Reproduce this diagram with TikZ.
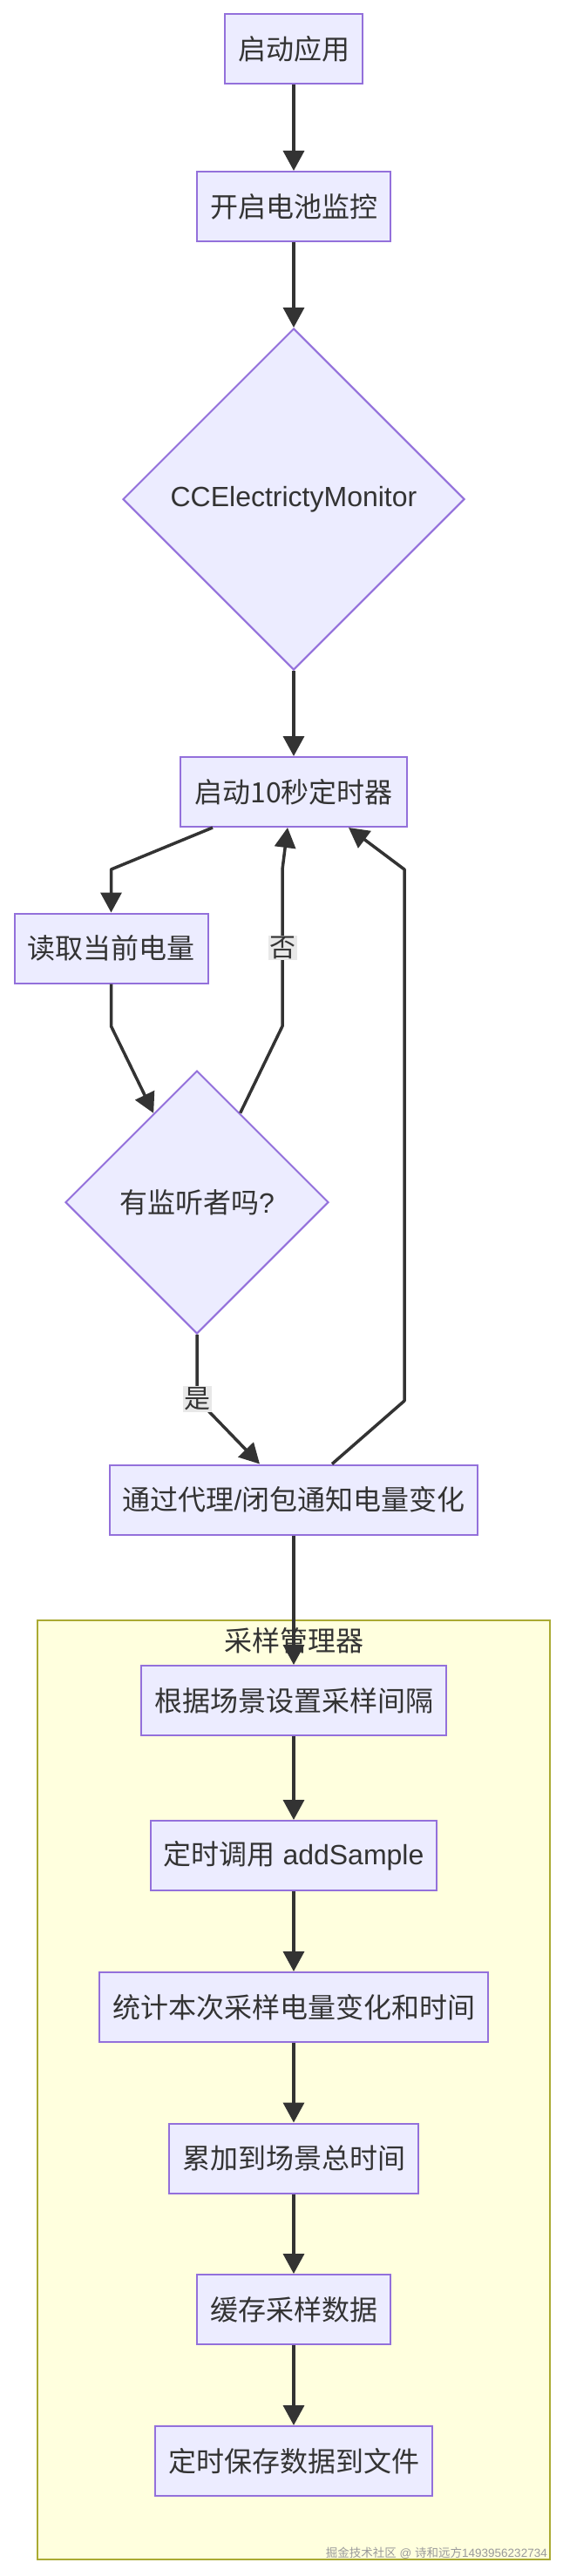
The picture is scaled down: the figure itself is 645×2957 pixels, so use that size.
\documentclass[tikz,border=0pt]{standalone}
\usepackage{fontspec}
\setmainfont{Liberation Sans}
\newfontfamily\cjk{Noto Sans CJK SC}
\usetikzlibrary{arrows.meta,shapes.geometric}
\definecolor{nodefill}{HTML}{ECECFF}
\definecolor{nodeline}{HTML}{9370DB}
\definecolor{clfill}{HTML}{FFFFDE}
\definecolor{clline}{HTML}{AAAA33}
\definecolor{edgec}{HTML}{333333}
\definecolor{lblfill}{HTML}{E8E8E8}
\definecolor{txt}{HTML}{333333}
\definecolor{wmark}{HTML}{9A9A9A}
\begin{document}
\begin{tikzpicture}[x=1pt,y=-1pt,
  proc/.style={draw=nodeline, fill=nodefill, line width=2pt, rectangle,
    minimum height=80pt, inner xsep=15pt, inner ysep=0pt, text=txt,
    font=\fontsize{32pt}{38pt}\selectfont},
  decide/.style={draw=nodeline, fill=nodefill, line width=2pt, diamond,
    inner sep=0pt, text=txt, font=\fontsize{32pt}{38pt}\selectfont},
  flow/.style={draw=edgec, line width=3.5pt, line join=round,
    -{Triangle[length=23pt,width=24pt]}},
  plain/.style={draw=edgec, line width=3.5pt, line join=round},
  elabel/.style={fill=lblfill, text=txt, inner sep=1.5pt,
    font=\fontsize{30pt}{34pt}\selectfont},
]
\useasboundingbox[fill=white] (0,0) rectangle (645,2957);

% cluster
\draw[fill=clfill, draw=clline, line width=2pt] (43,1860) rectangle (631,2938);
\node[text=txt, font=\fontsize{32pt}{38pt}\selectfont] (cl) at (337,1883) {\cjk 采样管理器};

% nodes
\node[proc] (n1) at (337,56.5) {\cjk 启动应用};
\node[proc] (n2) at (337,237) {\cjk 开启电池监控};
\node[decide, minimum width=392pt, minimum height=392pt] (d1) at (337,573) {CCElectrictyMonitor};
\node[proc, minimum width=260pt] (timer) at (337,909) {\cjk 启动10秒定时器};
\node[proc] (read) at (127.5,1088.5) {\cjk 读取当前电量};
\node[decide, minimum width=302pt, minimum height=302pt] (d2) at (226,1380) {{\cjk 有监听者吗}?};
\node[proc] (notify) at (337,1721.5) {{\cjk 通过代理}/{\cjk 闭包通知电量变化}};
\node[proc] (s1) at (337,1952) {\cjk 根据场景设置采样间隔};
\node[proc] (s2) at (337,2130) {{\cjk 定时调用} addSample};
\node[proc] (s3) at (337,2304) {\cjk 统计本次采样电量变化和时间};
\node[proc] (s4) at (337,2477.5) {\cjk 累加到场景总时间};
\node[proc] (s5) at (337,2651) {\cjk 缓存采样数据};
\node[proc] (s6) at (337,2825) {\cjk 定时保存数据到文件};

% bend points
\coordinate (b1) at (127.5,998);
\coordinate (b2) at (127.5,1178);
\coordinate (b3) at (324,1178);
\coordinate (b4) at (324,998);
\coordinate (b5) at (226,1606);
\coordinate (b6) at (464,1608);
\coordinate (b7) at (464,998);

% edges
\draw[flow] (n1) -- (n2);
\draw[flow] (n2) -- (d1);
\draw[flow] (d1) -- (timer);
\draw[flow] ([xshift=-93pt]timer.south) -- (b1) -- (read.north);
\draw[flow] (read.south) -- (b2) -- (d2);
\draw[flow] (d2) -- (b3) -- (b4) -- ([xshift=-7pt]timer.south);
\node[elabel] (no) at (324,1088) {\cjk 否};
\draw[flow] (d2) -- (b5) -- ([xshift=-39pt]notify.north);
\node[elabel] (yes) at (b5) {\cjk 是};
\draw[flow] ([xshift=44pt]notify.north) -- (b6) -- (b7) -- ([xshift=63pt]timer.south);
\draw[flow] (notify) -- (s1);
\draw[flow] (s1) -- (s2);
\draw[flow] (s2) -- (s3);
\draw[flow] (s3) -- (s4);
\draw[flow] (s4) -- (s5);
\draw[flow] (s5) -- (s6);

% watermark
\node[anchor=east, text=wmark, inner sep=0pt, font=\fontsize{13.5pt}{15pt}\selectfont] (wm) at (628,2931)
  {{\cjk 掘金技术社区} @ {\cjk 诗和远方}1493956232734};
\end{tikzpicture}
\end{document}
